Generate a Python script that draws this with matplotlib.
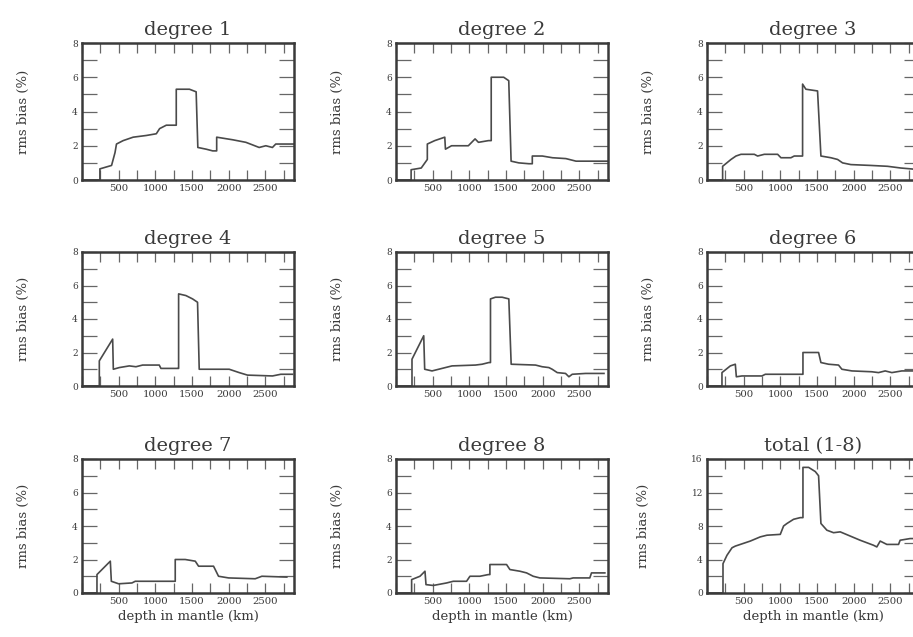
import matplotlib
matplotlib.use("Agg")
import matplotlib.pyplot as plt
from matplotlib.ticker import MultipleLocator

plt.rcParams['font.family'] = ['DejaVu Serif']

# depth (km) / rms bias (%) vertices of each profile
d1 = [0, 244, 244, 403, 450, 470, 561, 697, 877, 1013, 1058, 1149, 1285, 1285, 1465, 1556, 1579, 1692, 1782, 1836, 1836, 2053, 2234, 2325, 2415, 2506, 2596, 2641, 2823, 2890]
v1 = [0, 0, 0.65, 0.85, 1.6, 2.1, 2.3, 2.5, 2.6, 2.7, 3.0, 3.2, 3.2, 5.3, 5.3, 5.15, 1.9, 1.8, 1.7, 1.7, 2.5, 2.35, 2.2, 2.05, 1.9, 2.0, 1.9, 2.1, 2.1, 2.1]

d2 = [0, 206, 206, 344, 427, 427, 528, 665, 674, 757, 986, 1055, 1078, 1124, 1261, 1298, 1298, 1468, 1537, 1569, 1674, 1812, 1858, 1858, 1995, 2133, 2316, 2454, 2844, 2890]
v2 = [0, 0, 0.6, 0.7, 1.2, 2.1, 2.3, 2.5, 1.8, 2.0, 2.0, 2.3, 2.4, 2.2, 2.3, 2.3, 6.0, 6.0, 5.8, 1.1, 1.0, 0.95, 0.95, 1.4, 1.4, 1.3, 1.25, 1.1, 1.1, 1.1]

d3 = [0, 213, 213, 327, 395, 463, 645, 690, 781, 963, 1008, 1144, 1189, 1280, 1303, 1303, 1348, 1507, 1553, 1689, 1780, 1848, 1961, 2234, 2461, 2642, 2778, 2890]
v3 = [0, 0, 0.8, 1.2, 1.4, 1.5, 1.5, 1.4, 1.5, 1.5, 1.3, 1.3, 1.4, 1.4, 1.4, 5.6, 5.3, 5.2, 1.4, 1.3, 1.2, 1.0, 0.9, 0.85, 0.8, 0.7, 0.65, 0.6]

d4 = [0, 236, 236, 418, 427, 508, 645, 735, 826, 1053, 1076, 1303, 1317, 1317, 1416, 1507, 1575, 1598, 2007, 2143, 2256, 2597, 2710, 2869]
v4 = [0, 0, 1.5, 2.8, 1.0, 1.1, 1.2, 1.15, 1.25, 1.25, 1.05, 1.05, 1.05, 5.5, 5.4, 5.2, 5.0, 1.0, 1.0, 0.8, 0.65, 0.6, 0.7, 0.7]

d5 = [0, 218, 218, 378, 391, 491, 582, 673, 764, 1083, 1174, 1265, 1288, 1288, 1356, 1447, 1538, 1570, 1902, 1993, 2084, 2129, 2198, 2311, 2357, 2402, 2584, 2835]
v5 = [0, 0, 1.6, 3.0, 1.0, 0.9, 1.0, 1.1, 1.2, 1.25, 1.3, 1.4, 1.4, 5.2, 5.3, 5.3, 5.2, 1.3, 1.25, 1.15, 1.1, 1.0, 0.8, 0.75, 0.55, 0.7, 0.75, 0.75]

d6 = [0, 204, 204, 318, 386, 400, 477, 749, 795, 1294, 1308, 1308, 1521, 1553, 1657, 1793, 1839, 1975, 2247, 2338, 2429, 2520, 2656, 2890]
v6 = [0, 0, 0.8, 1.2, 1.3, 0.55, 0.6, 0.6, 0.7, 0.7, 0.7, 2.0, 2.0, 1.4, 1.3, 1.25, 1.0, 0.9, 0.85, 0.8, 0.9, 0.8, 0.9, 0.9]

d7 = [0, 204, 204, 386, 400, 499, 681, 726, 1226, 1271, 1271, 1407, 1544, 1589, 1793, 1816, 1861, 1998, 2361, 2452, 2792]
v7 = [0, 0, 1.1, 1.9, 0.7, 0.55, 0.6, 0.7, 0.7, 0.7, 2.0, 2.0, 1.9, 1.6, 1.6, 1.4, 1.0, 0.9, 0.85, 1.0, 0.95]

d8 = [0, 213, 213, 327, 395, 409, 508, 690, 781, 962, 1008, 1144, 1258, 1280, 1280, 1507, 1553, 1689, 1780, 1870, 1961, 2370, 2415, 2642, 2665, 2847]
v8 = [0, 0, 0.8, 1.0, 1.3, 0.5, 0.45, 0.6, 0.7, 0.7, 1.0, 1.0, 1.1, 1.1, 1.7, 1.7, 1.4, 1.3, 1.2, 1.0, 0.9, 0.85, 0.9, 0.9, 1.2, 1.2]

dt = [0, 218, 218, 272, 341, 386, 454, 590, 726, 817, 999, 1044, 1090, 1180, 1271, 1308, 1308, 1385, 1476, 1521, 1553, 1634, 1725, 1816, 1952, 2088, 2270, 2315, 2361, 2406, 2452, 2611, 2633, 2769, 2890]
vt = [0, 0, 3.5, 4.5, 5.4, 5.6, 5.8, 6.2, 6.7, 6.9, 7.0, 8.0, 8.3, 8.8, 9.0, 9.0, 15.0, 15.0, 14.5, 14.0, 8.3, 7.5, 7.2, 7.3, 6.8, 6.3, 5.7, 5.5, 6.2, 6.0, 5.8, 5.8, 6.3, 6.5, 6.5]

titles = ['degree 1', 'degree 2', 'degree 3', 'degree 4', 'degree 5',
          'degree 6', 'degree 7', 'degree 8', 'total (1-8)']
depths = [d1, d2, d3, d4, d5, d6, d7, d8, dt]
values = [v1, v2, v3, v4, v5, v6, v7, v8, vt]
ymax = [8, 8, 8, 8, 8, 8, 8, 8, 16]

W, H = 913, 637
fig = plt.figure(figsize=(W / 100, H / 100), dpi=100)

lefts = [82, 396, 707]
tops = [43, 252, 459]
bottoms = [180, 386, 593]
aw = 212

ink = '#3a3a3a'
for i in range(9):
    r, c = divmod(i, 3)
    ax = fig.add_axes([lefts[c] / W, 1 - bottoms[r] / H,
                       aw / W, (bottoms[r] - tops[r]) / H])
    ax.plot(depths[i], values[i], color='#4a4a4a', lw=1.2)
    ax.set_xlim(0, 2890)
    ax.set_ylim(0, ymax[i])
    ax.xaxis.set_minor_locator(MultipleLocator(250))
    ax.set_xticks([500, 1000, 1500, 2000, 2500])
    step = ymax[i] / 4
    ax.yaxis.set_major_locator(MultipleLocator(step))
    ax.yaxis.set_minor_locator(MultipleLocator(step / 2))
    ax.tick_params(which='both', direction='in', top=True, right=True,
                   color='#666666', width=0.9, labelcolor=ink, pad=3)
    ax.tick_params(axis='x', which='both', length=7, labelsize=7.3)
    ax.tick_params(axis='y', which='both', length=11, labelsize=6.5)
    for s in ax.spines.values():
        s.set_linewidth(1.8)
        s.set_color(ink)
    ax.set_title(titles[i], fontsize=14, color=ink, pad=6)
    ax.set_ylabel('rms bias (%)', fontsize=9.5, color=ink, labelpad=30)
    if r == 2:
        ax.set_xlabel('depth in mantle (km)', fontsize=9.5, color=ink, labelpad=3)

fig.savefig('out.png', dpi=100, facecolor='white')
